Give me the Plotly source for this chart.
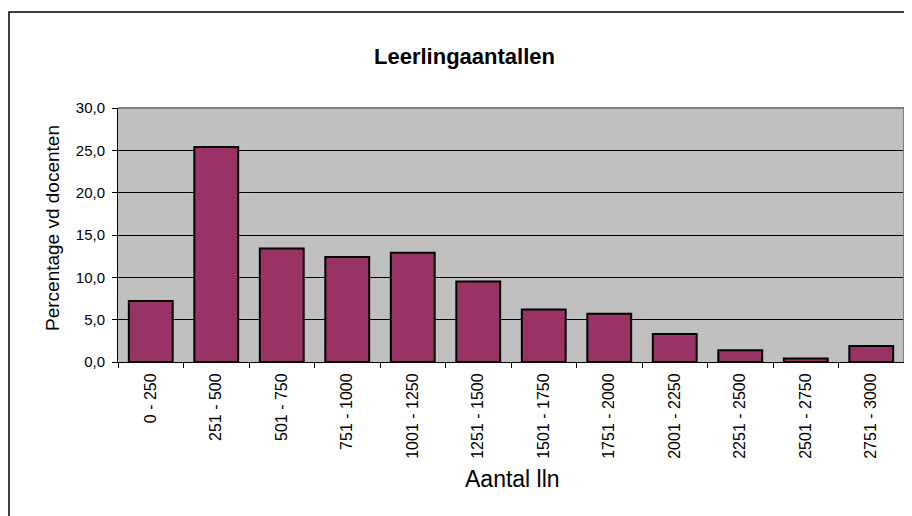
import plotly.graph_objects as go

categories = ["0 - 250", "251 - 500", "501 - 750", "751 - 1000", "1001 - 1250",
              "1251 - 1500", "1501 - 1750", "1751 - 2000", "2001 - 2250",
              "2251 - 2500", "2501 - 2750", "2751 - 3000"]
values = [7.2, 25.4, 13.4, 12.4, 12.9, 9.5, 6.2, 5.7, 3.3, 1.4, 0.4, 1.9]
y_ticks = [0, 5, 10, 15, 20, 25, 30]

# page body has an 8px margin, so the figure starts at screen (8, 8)
OFF = 8
W, H = 912 - OFF, 516 - OFF
L, R, T, B = 118 - OFF, 8, 108 - OFF, 516 - 362
pw, ph = W - L - R, H - T - B

def px(x):  # screen x -> paper
    return (x - OFF - L) / pw

def py(y):  # screen y -> paper
    return (H - B - (y - OFF)) / ph

fig = go.Figure(go.Bar(
    x=categories, y=values,
    marker=dict(color="#993366", line=dict(color="black", width=2)),
    width=0.67,
))

font = "Arial, Liberation Sans, sans-serif"
fig.update_layout(
    width=W, height=H,
    margin=dict(l=L, r=R, t=T, b=B),
    paper_bgcolor="white",
    plot_bgcolor="#C0C0C0",
    separators=",.",
    showlegend=False,
    font=dict(family=font, color="black"),
    xaxis=dict(
        type="category", tickangle=-90, tickfont=dict(size=16),
        showline=True, linecolor="black", linewidth=1,
        ticks="outside", ticklen=5, tickcolor="black", tickson="boundaries",
        ticklabelstandoff=4,
        showgrid=False, range=[-0.5, 11.5],
    ),
    yaxis=dict(
        range=[0, 30], tickvals=y_ticks, tickformat=".1f", tickfont=dict(size=15),
        showline=True, linecolor="black", linewidth=1,
        ticks="outside", ticklen=5, tickcolor="black", ticklabelstandoff=4,
        showgrid=True, gridcolor="black", gridwidth=1, zeroline=False,
    ),
    annotations=[
        dict(text="<b>Leerlingaantallen</b>", x=px(464), y=py(57), xref="paper", yref="paper",
             showarrow=False, font=dict(size=22), xanchor="center", yanchor="middle"),
        dict(text="Aantal lln", x=px(512), y=py(479), xref="paper", yref="paper",
             showarrow=False, font=dict(size=23), xanchor="center", yanchor="middle"),
        dict(text="Percentage vd docenten", x=px(52), y=py(228), xref="paper", yref="paper",
             showarrow=False, font=dict(size=19), textangle=-90, xanchor="center", yanchor="middle"),
    ],
    shapes=[
        dict(type="line", xref="paper", yref="paper", x0=0, x1=1, y0=1, y1=1,
             line=dict(color="#808080", width=2), layer="above"),
        dict(type="line", xref="paper", yref="paper", x0=1, x1=1, y0=0, y1=1,
             line=dict(color="#808080", width=2), layer="above"),
        dict(type="rect", xref="paper", yref="paper", x0=px(9), x1=px(940), y0=py(560), y1=py(12),
             line=dict(color="black", width=1.5), layer="below"),
    ],
)

fig.write_html("out.html")
